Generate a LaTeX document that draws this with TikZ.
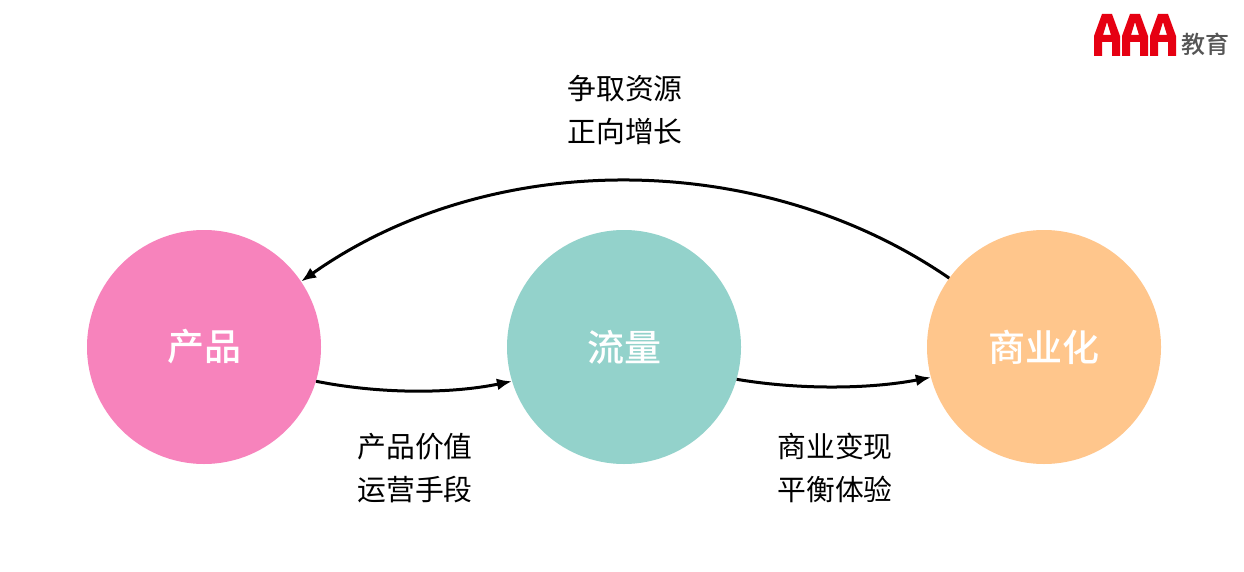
\documentclass[tikz,border=0pt]{standalone}
\usepackage{fontspec}
\setmainfont{Noto Sans CJK SC}
\newfontfamily\medfont{Noto Sans CJK SC Medium}
\usetikzlibrary{arrows.meta}
\tikzset{
 px/.style={x=1pt,y=-1pt},
 hub/.style={circle,minimum size=234pt,inner sep=0pt,text=white,font=\fontsize{37}{37}\selectfont\medfont},
 lab/.style={align=center,font=\fontsize{28.8}{43}\selectfont,text=black,inner sep=0pt},
 conn/.style={line width=3pt,-{Latex[length=15pt,width=12pt]},black},
 logoa/.style={fill=logored,even odd rule}
}
\definecolor{cpink}{HTML}{F783BC}
\definecolor{cteal}{HTML}{93D2CB}
\definecolor{corange}{HTML}{FFC68C}
\definecolor{logored}{HTML}{E60012}
\definecolor{logogray}{HTML}{555555}
\begin{document}
\begin{tikzpicture}[px]
\useasboundingbox (0,0) rectangle (1244,572);
\fill[white] (0,0) rectangle (1244,572);
\node[hub,fill=cpink] (a) at (204,347) {产品};
\node[hub,fill=cteal] (b) at (624,347) {流量};
\node[hub,fill=corange] (c) at (1044,347) {商业化};
\draw[conn] (a.-17) .. controls (380,394) and (450,394) .. (b.197);
\draw[conn] (b.-16) .. controls (800,390) and (870,389) .. (c.195);
\draw[conn] (c.144) .. controls (760,148) and (490,148) .. (a.34.5);
\node[lab] (t1) at (625,110) {争取资源\\正向增长};
\node[lab] (t2) at (415,468) {产品价值\\运营手段};
\node[lab] (t3) at (835,468) {商业变现\\平衡体验};
\foreach \x in {1094,1122,1150}{
 \fill[logored,even odd rule,shift={(\x,0)}] (0,56) -- (0,36) -- (8,14) -- (18,14) -- (26,36) -- (26,56) -- (18,56) -- (18,42) -- (8,42) -- (8,56) -- cycle
   (9,35) -- (17,35) -- (13,22) -- cycle;
}
\node[inner sep=0pt,text=logogray,font=\fontsize{24}{24}\selectfont\medfont] (logo) at (1205,44) {教育};
\end{tikzpicture}
\end{document}
